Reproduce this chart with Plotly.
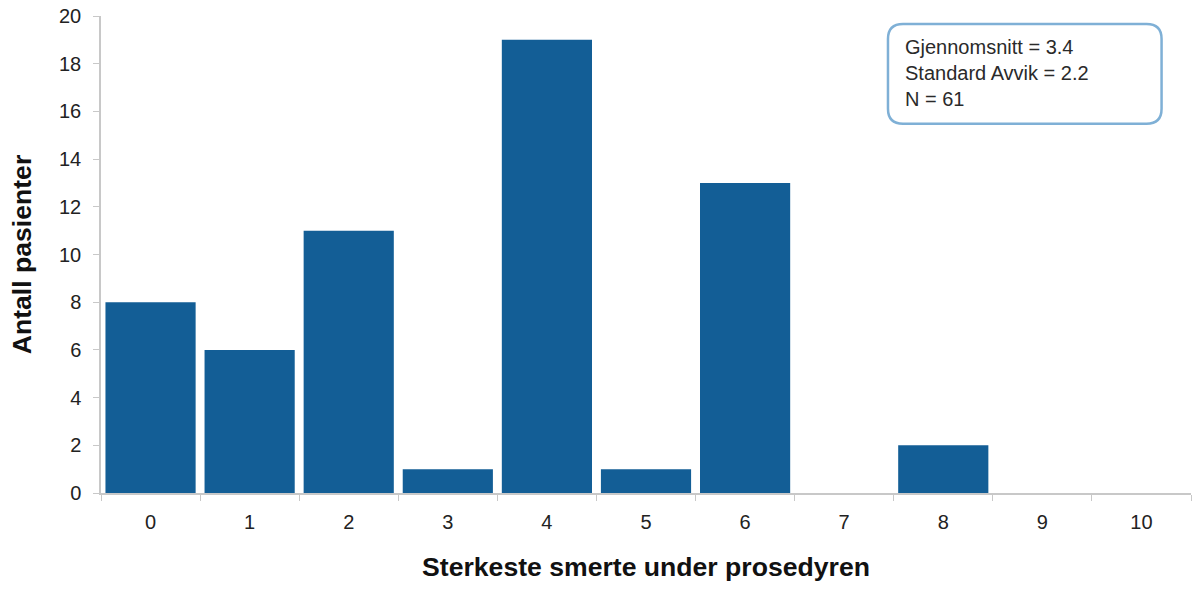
import plotly.graph_objects as go

categories = ["0", "1", "2", "3", "4", "5", "6", "7", "8", "9", "10"]
counts = [8, 6, 11, 1, 19, 1, 13, 0, 2, 0, 0]
y_ticks = [0, 2, 4, 6, 8, 10, 12, 14, 16, 18, 20]
stats_lines = ["Gjennomsnitt = 3.4", "Standard Avvik = 2.2", "N = 61"]

FONT = "Liberation Sans, Arial, sans-serif"

fig = go.Figure()
fig.add_trace(go.Bar(
    x=categories, y=counts,
    marker=dict(color="#135E96", line=dict(width=0)),
))

fig.update_layout(
    width=1202, height=594,
    margin=dict(l=101, r=11, t=16, b=101),
    paper_bgcolor="white", plot_bgcolor="white",
    bargap=0.09,
    showlegend=False,
    font=dict(family=FONT, color="#222222"),
    xaxis=dict(
        type="category", automargin=False,
        showline=True, linecolor="#c8c8c8", linewidth=1.5,
        ticks="outside", tickson="boundaries", ticklen=6, tickcolor="#c8c8c8",
        tickfont=dict(size=20, color="#222222"),
        ticklabelstandoff=10,
        showgrid=False,
        title=dict(text="<b>Sterkeste smerte under prosedyren</b>",
                   font=dict(size=26.6, color="#111111"), standoff=26),
    ),
    yaxis=dict(
        range=[0, 20], tickvals=y_ticks, automargin=False,
        showline=True, linecolor="#c8c8c8", linewidth=1.5,
        ticks="outside", ticklen=6, tickcolor="#c8c8c8",
        tickfont=dict(size=20, color="#222222"),
        ticklabelstandoff=8,
        showgrid=False, zeroline=False,
        title=dict(text="<b>Antall pasienter</b>",
                   font=dict(size=26.6, color="#111111"), standoff=20),
    ),
)

# rounded stats box
x0, x1 = 0.722, 0.973
y0, y1 = 0.774, 0.983
rx, ry = 0.0138, 0.0314
path = (f"M {x0+rx},{y1} L {x1-rx},{y1} Q {x1},{y1} {x1},{y1-ry} "
        f"L {x1},{y0+ry} Q {x1},{y0} {x1-rx},{y0} "
        f"L {x0+rx},{y0} Q {x0},{y0} {x0},{y0+ry} "
        f"L {x0},{y1-ry} Q {x0},{y1} {x0+rx},{y1} Z")
fig.add_shape(type="path", path=path, xref="paper", yref="paper",
              line=dict(color="#7FB0D6", width=2.5), fillcolor="white")

line_y = [0.935, 0.880, 0.827]
for txt, yy in zip(stats_lines, line_y):
    fig.add_annotation(text=txt, xref="paper", yref="paper",
                       x=0.7355, y=yy, xanchor="left", yanchor="middle",
                       showarrow=False, font=dict(size=20, color="#2a2a2a"))

fig.write_html("out.html",
               config={"displayModeBar": False},
               post_script="document.body.style.margin='0';document.body.style.overflow='hidden';")
